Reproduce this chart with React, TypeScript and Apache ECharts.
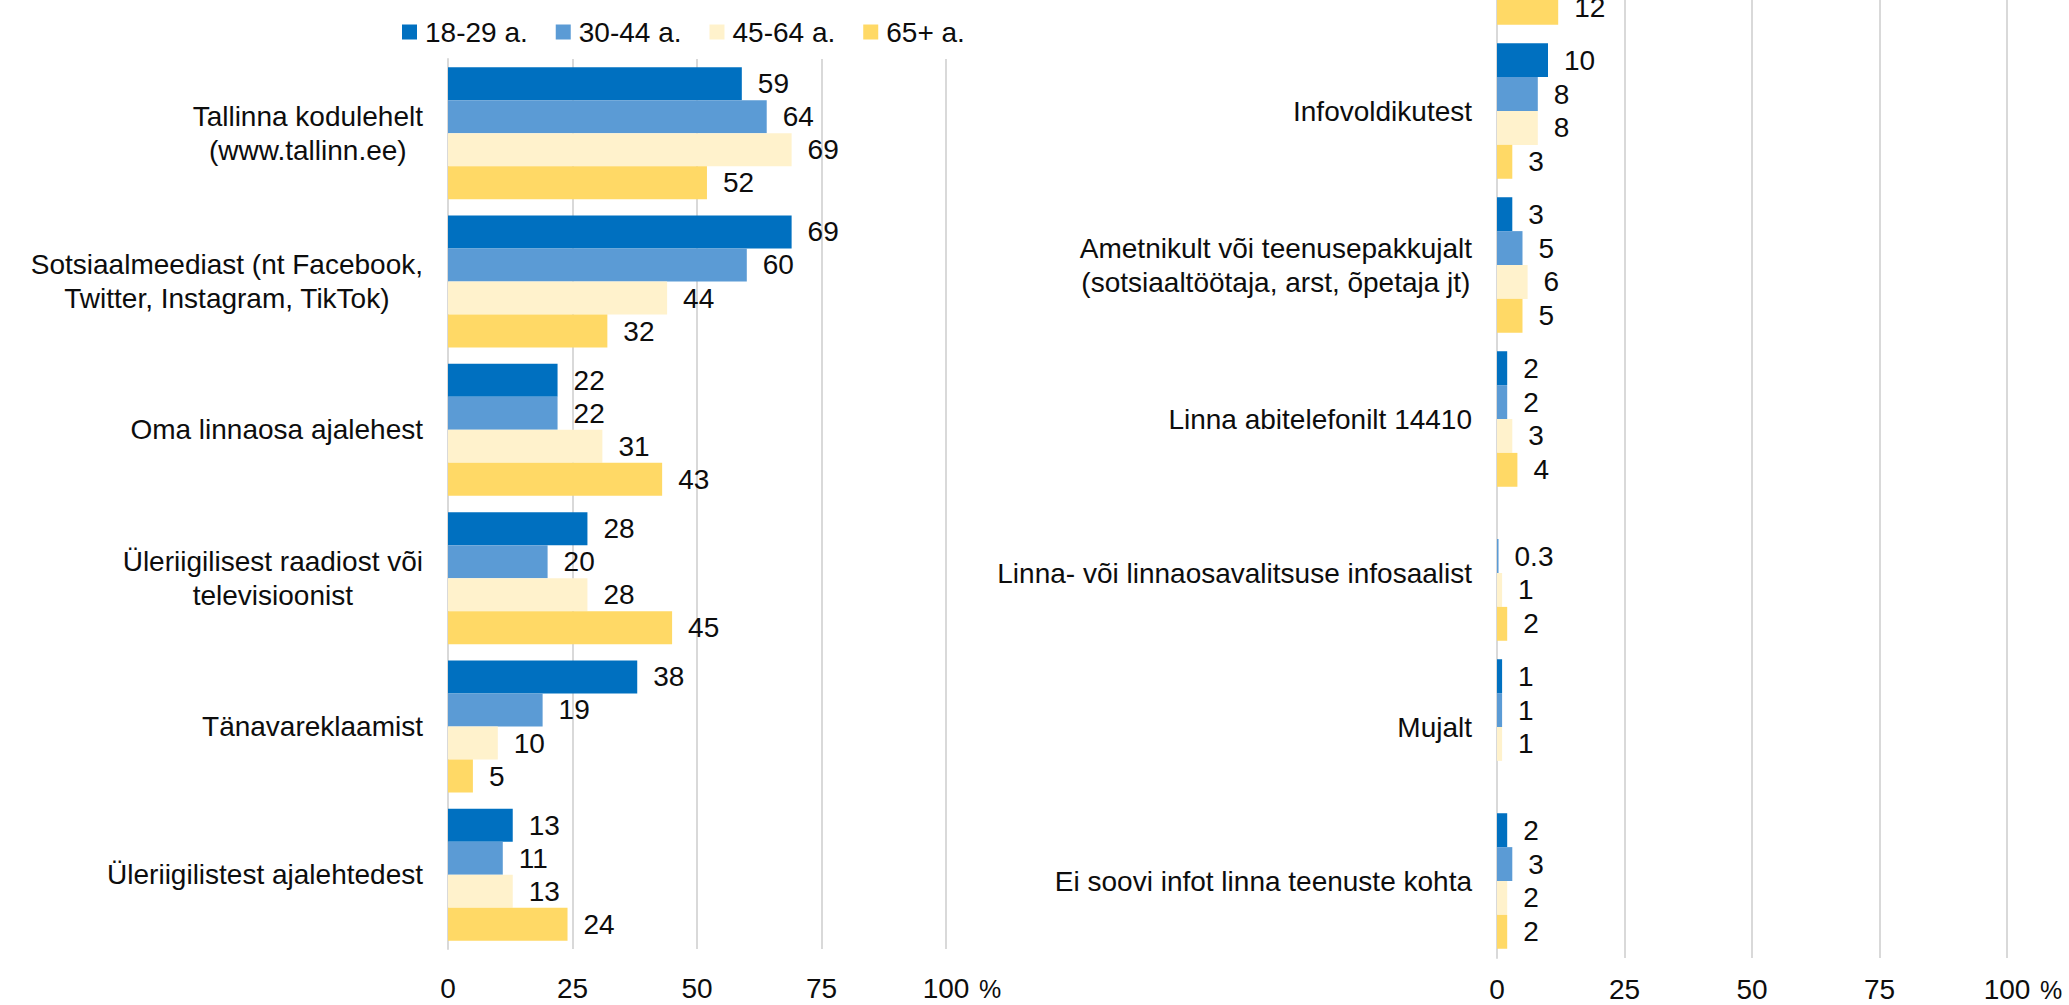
import React, { useEffect, useRef } from "react";
import * as echarts from "echarts";

const FONT = '"Liberation Sans", Arial, sans-serif';
const TEXT = "#0d0d0d";
const GRID = "#d9d9d9";
// the chart canvas extends above the visible page so that the right panel's first group is cut off
const SHIFT = 120;

const seriesNames = ["18-29 a.", "30-44 a.", "45-64 a.", "65+ a."];
const seriesColors = ["#0070C0", "#5B9BD5", "#FFF2CC", "#FFD966"];

const leftCategories = [
  "Tallinna kodulehelt\n(www.tallinn.ee)",
  "Sotsiaalmeediast (nt Facebook,\nTwitter, Instagram, TikTok)",
  "Oma linnaosa ajalehest",
  "Üleriigilisest raadiost või\ntelevisioonist",
  "Tänavareklaamist",
  "Üleriigilistest ajalehtedest",
];
const left18_29 = [59, 69, 22, 28, 38, 13];
const left30_44 = [64, 60, 22, 20, 19, 11];
const left45_64 = [69, 44, 31, 28, 10, 13];
const left65 = [52, 32, 43, 45, 5, 24];

const rightCategories = [
  "",
  "Infovoldikutest",
  "Ametnikult või teenusepakkujalt\n(sotsiaaltöötaja, arst, õpetaja jt)",
  "Linna abitelefonilt 14410",
  "Linna- või linnaosavalitsuse infosaalist",
  "Mujalt",
  "Ei soovi infot linna teenuste kohta",
];
const right18_29 = [null, 10, 3, 2, null, 1, 2];
const right30_44 = [null, 8, 5, 2, 0.3, 1, 3];
const right45_64 = [null, 8, 6, 3, 1, 1, 2];
const right65 = [12, 3, 5, 4, 2, null, 2];

const xTicks = [0, 25, 50, 75, 100];
const unitLabel = "%";

export default function App() {
  const ref = useRef<HTMLDivElement>(null);

  useEffect(() => {
    if (!ref.current) return;
    const chart = echarts.init(ref.current, undefined, { renderer: "svg" });

    const makeX = (gridIndex: number, margin: number) => ({
      type: "value",
      gridIndex,
      min: xTicks[0],
      max: xTicks[xTicks.length - 1],
      interval: xTicks[1] - xTicks[0],
      axisLine: { show: false },
      axisTick: { show: false },
      splitLine: { show: true, lineStyle: { color: GRID, width: 2 } },
      axisLabel: {
        color: TEXT,
        fontFamily: FONT,
        fontSize: 28,
        margin,
        formatter: (v: number) =>
          v === xTicks[xTicks.length - 1] ? "{h|}" + v + "{p|" + unitLabel + "}" : String(v),
        rich: {
          h: { width: 32, fontSize: 28, fontFamily: FONT, color: TEXT },
          p: { width: 32, align: "right", fontSize: 25, fontFamily: FONT, color: TEXT, padding: [2, 0, 0, 0] },
        },
      },
    });

    const makeY = (gridIndex: number, data: string[]) => ({
      type: "category",
      gridIndex,
      data,
      inverse: true,
      axisLine: { show: true, lineStyle: { color: GRID, width: 2 } },
      axisTick: { show: false },
      splitLine: { show: false },
      axisLabel: {
        interval: 0,
        margin: 25,
        color: TEXT,
        fontFamily: FONT,
        fontSize: 28,
        lineHeight: 34,
        formatter: (v: string) =>
          v
            .split("\n")
            .map((l) => "{c|" + l + "}")
            .join("\n"),
        rich: {
          c: {
            align: "center",
            color: TEXT,
            fontFamily: FONT,
            fontSize: 28,
            lineHeight: 34,
          },
        },
      },
    });

    const leftData = [left18_29, left30_44, left45_64, left65];
    const rightData = [right18_29, right30_44, right45_64, right65];

    const makeSeries = (data: (number | null)[], i: number, gridIdx: number, catGap: string) => ({
      type: "bar",
      name: seriesNames[i],
      xAxisIndex: gridIdx,
      yAxisIndex: gridIdx,
      data,
      barGap: "0%",
      barCategoryGap: catGap,
      itemStyle: { color: seriesColors[i] },
      label: {
        show: true,
        position: "right",
        distance: 16,
        color: TEXT,
        fontFamily: FONT,
        fontSize: 28,
        formatter: (p: any) => (p.value == null ? "" : String(p.value)),
      },
    });

    chart.setOption({
      animation: false,
      backgroundColor: "#ffffff",
      textStyle: { fontFamily: FONT },
      legend: {
        data: seriesNames,
        left: 397,
        top: 13 + SHIFT,
        icon: "rect",
        itemWidth: 15,
        itemHeight: 15,
        itemGap: 28,
        textStyle: {
          color: TEXT,
          fontFamily: FONT,
          fontSize: 28,
          padding: [0, 0, 0, 3],
        },
      },
      grid: [
        { left: 448, width: 498, top: 59 + SHIFT, height: 890, containLabel: false },
        { left: 1497, width: 510, top: -120 + SHIFT, height: 1078, containLabel: false },
      ],
      xAxis: [makeX(0, 25), makeX(1, 17)],
      yAxis: [makeY(0, leftCategories), makeY(1, rightCategories)],
      series: [
        ...leftData.map((d, i) => makeSeries(d, i, 0, "11%")),
        ...rightData.map((d, i) => makeSeries(d, i, 1, "12%")),
      ],
    });

    return () => chart.dispose();
  }, []);

  return (
    <div
      ref={ref}
      style={{
        position: "fixed",
        left: 0,
        top: -SHIFT,
        width: 2069,
        height: 1005 + SHIFT,
        background: "#fff",
      }}
    />
  );
}
